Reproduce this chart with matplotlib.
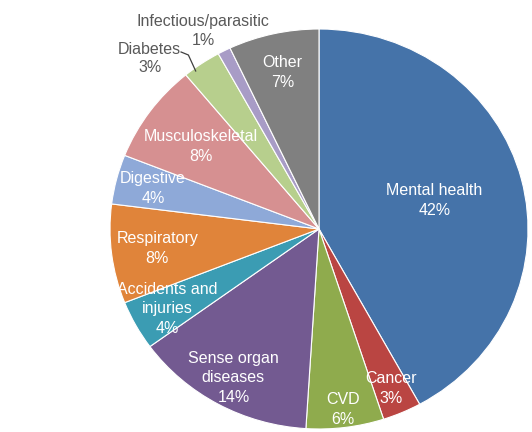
import matplotlib.pyplot as plt
import numpy as np

plt.rcParams['font.family'] = ['Liberation Sans', 'DejaVu Sans']

causes = ['Mental health', 'Cancer', 'CVD', 'Sense organ\ndiseases', 'Accidents and\ninjuries',
          'Respiratory', 'Digestive', 'Musculoskeletal', 'Diabetes', 'Infectious/parasitic', 'Other']
shares = [42, 3, 6, 14, 4, 8, 4, 8, 3, 1, 7]
colors = ['#4573A9', '#BA4542', '#8FAB4D', '#735A91', '#3B9CB3', '#E0843A',
          '#8EA9D8', '#D69091', '#B7CF8D', '#A89CC6', '#808080']

# label distance from centre (fraction of radius), per slice
label_r = [0.57, 0.87, 0.91, 0.85, 0.83, 0.78, 0.82, 0.70, None, None, 0.80]

fig = plt.figure(figsize=(5.32, 4.32), dpi=100)
ax = fig.add_axes([0, 0, 1, 1])

wedges, _ = ax.pie(shares, colors=colors, startangle=90, counterclock=False,
                   wedgeprops=dict(edgecolor='white', linewidth=0.8))

# pie in the picture is a bit wider than tall
ax.set_aspect('auto')
ax.set_xlim(-319 / 209, (532 - 319) / 209)
ax.set_ylim((229 - 432) / 200, 229 / 200)
ax.axis('off')

for w, name, pct, r in zip(wedges, causes, shares, label_r):
    if r is None:
        continue
    ang = np.deg2rad((w.theta1 + w.theta2) / 2)
    ax.text(r * np.cos(ang), r * np.sin(ang), f'{name}\n{pct}%', color='white',
            ha='center', va='center', fontsize=11.5, linespacing=1.4)

# small slices labelled outside, one line per text
grey = '#595959'
ax.text(-0.81, 0.90, causes[8], color=grey, ha='center', va='center', fontsize=11.5)
ax.text(-0.81, 0.805, f'{shares[8]}%', color=grey, ha='center', va='center', fontsize=11.5)
ax.text(-0.555, 1.04, causes[9], color=grey, ha='center', va='center', fontsize=11.5)
ax.text(-0.555, 0.945, f'{shares[9]}%', color=grey, ha='center', va='center', fontsize=11.5)
ax.plot([-0.66, -0.625, -0.59], [0.885, 0.87, 0.79], color='#404040', linewidth=0.9)

fig.savefig('out.png', dpi=100)
